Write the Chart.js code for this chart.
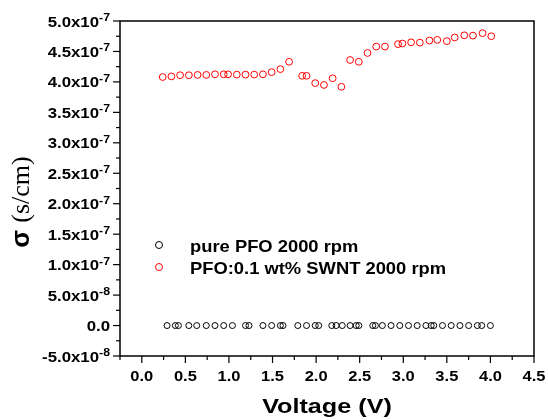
<!DOCTYPE html>
<html>
<head>
<meta charset="utf-8">
<script src="https://cdn.jsdelivr.net/npm/chart.js@4.4.1/dist/chart.umd.min.js"></script>
<style>
  body { margin: 0; background: #fff; }
  #caja { width: 548px; height: 420px; }
</style>
</head>
<body>
<div id="caja"><canvas id="grafico" width="548" height="420"></canvas></div>
<script>
const grafico = document.querySelector("#grafico");

// pure PFO 2000 rpm
const voltajePuro = [0.29, 0.385, 0.42, 0.54, 0.63, 0.74, 0.84, 0.94, 1.04, 1.19, 1.23, 1.39, 1.49, 1.59, 1.62,
  1.79, 1.89, 1.99, 2.03, 2.18, 2.23, 2.30, 2.39, 2.46, 2.49, 2.65, 2.68, 2.76, 2.86, 2.96, 3.06, 3.16,
  3.26, 3.32, 3.35, 3.45, 3.55, 3.65, 3.75, 3.85, 3.90, 4.00];
const sigmaPuro = [0, 0, 0, 0, 0, 0, 0, 0, 0, 0, 0, 0, 0, 0, 0, 0, 0, 0, 0, 0, 0,
  0, 0, 0, 0, 0, 0, 0, 0, 0, 0, 0, 0, 0, 0, 0, 0, 0, 0, 0, 0, 0];

// PFO:0.1 wt% SWNT 2000 rpm
const voltajeSWNT = [0.24, 0.34, 0.44, 0.54, 0.64, 0.74, 0.84, 0.94, 0.99, 1.09, 1.19, 1.29, 1.39, 1.49, 1.59,
  1.69, 1.84, 1.89, 1.99, 2.09, 2.19, 2.29, 2.39, 2.49, 2.59, 2.69, 2.79, 2.94, 2.99, 3.09, 3.19, 3.30,
  3.39, 3.50, 3.59, 3.70, 3.80, 3.91, 4.01];
const sigmaSWNT = [4.08e-7, 4.09e-7, 4.11e-7, 4.11e-7, 4.115e-7, 4.115e-7, 4.125e-7, 4.125e-7, 4.125e-7,
  4.12e-7, 4.12e-7, 4.12e-7, 4.125e-7, 4.16e-7, 4.21e-7, 4.33e-7, 4.10e-7, 4.10e-7, 3.98e-7, 3.95e-7,
  4.06e-7, 3.92e-7, 4.36e-7, 4.33e-7, 4.475e-7, 4.58e-7, 4.58e-7, 4.62e-7, 4.63e-7, 4.65e-7, 4.645e-7,
  4.68e-7, 4.69e-7, 4.67e-7, 4.73e-7, 4.765e-7, 4.76e-7, 4.80e-7, 4.75e-7];

const ticksX = [0, 0.5, 1.0, 1.5, 2.0, 2.5, 3.0, 3.5, 4.0, 4.5];
const etiquetasX = ["0.0", "0.5", "1.0", "1.5", "2.0", "2.5", "3.0", "3.5", "4.0", "4.5"];
const ticksY = [-5e-8, 0, 5e-8, 1e-7, 1.5e-7, 2e-7, 2.5e-7, 3e-7, 3.5e-7, 4e-7, 4.5e-7, 5e-7];
const etiquetasY = [["-5.0x10", "-8"], ["0.0", ""], ["5.0x10", "-8"], ["1.0x10", "-7"], ["1.5x10", "-7"],
  ["2.0x10", "-7"], ["2.5x10", "-7"], ["3.0x10", "-7"], ["3.5x10", "-7"], ["4.0x10", "-7"],
  ["4.5x10", "-7"], ["5.0x10", "-7"]];

const SANS = '"Liberation Sans", Arial, sans-serif';
const SERIF = '"Liberation Serif", "Times New Roman", serif';

const texto = (ctx, str, x, y, font, align, sx) => {
  ctx.save();
  ctx.translate(x, y);
  ctx.scale(sx, 1);
  ctx.font = font;
  ctx.textAlign = align;
  ctx.textBaseline = "alphabetic";
  ctx.fillStyle = "#000";
  ctx.fillText(str, 0, 0);
  ctx.restore();
};

const linea = (ctx, x1, y1, x2, y2) => {
  ctx.beginPath();
  ctx.moveTo(x1, y1);
  ctx.lineTo(x2, y2);
  ctx.stroke();
};

const ejes = {
  id: "ejes",
  afterDraw(chart) {
    const { ctx, chartArea: a, scales: { x, y } } = chart;
    ctx.save();
    ctx.strokeStyle = "#000";
    ctx.lineWidth = 1.5;
    ctx.strokeRect(a.left, a.top, a.right - a.left, a.bottom - a.top);

    // eje x: marcas mayores, menores y etiquetas
    ctx.lineWidth = 1.2;
    ticksX.forEach((v, i) => {
      const px = x.getPixelForValue(v);
      linea(ctx, px, a.bottom, px, a.bottom + 7);
      texto(ctx, etiquetasX[i], px, 381, "bold 15px " + SANS, "center", 1.1);
      const ant = i === 0 ? v - 0.25 : (ticksX[i - 1] + v) / 2;
      const pm = x.getPixelForValue(ant);
      linea(ctx, pm, a.bottom, pm, a.bottom + 4);
    });

    // eje y
    ticksY.forEach((v, i) => {
      const py = y.getPixelForValue(v);
      linea(ctx, a.left - 7, py, a.left, py);
      if (i > 0) {
        const pm = y.getPixelForValue((ticksY[i - 1] + v) / 2);
        linea(ctx, a.left - 4, pm, a.left, pm);
      }
      const [base, exp] = etiquetasY[i];
      const sx = 1.12;
      ctx.font = "bold 15px " + SANS;
      const wb = ctx.measureText(base).width * sx;
      ctx.font = "bold 11px " + SANS;
      const we = exp ? ctx.measureText(exp).width * sx : 0;
      const inicio = a.left - 10 - wb - we;
      texto(ctx, base, inicio, py + 5.5, "bold 15px " + SANS, "left", sx);
      if (exp) texto(ctx, exp, inicio + wb, py, "bold 11px " + SANS, "left", sx);
    });

    // titulos
    texto(ctx, "Voltage (V)", (a.left + a.right) / 2, 413, "bold 21px " + SANS, "center", 1.2);

    ctx.save();
    ctx.translate(29, 202);
    ctx.rotate(-Math.PI / 2);
    ctx.font = "bold 26px " + SANS;
    const ws = ctx.measureText("σ ").width;
    ctx.font = "26px " + SERIF;
    const wu = ctx.measureText("(s/cm)").width;
    const x0 = -(ws + wu) / 2;
    texto(ctx, "σ", x0, 0, "bold 26px " + SANS, "left", 1);
    texto(ctx, "(s/cm)", x0 + ws, 0, "26px " + SERIF, "left", 1);
    ctx.restore();

    // leyenda
    const filas = [245, 267];
    chart.data.datasets.forEach((ds, i) => {
      ctx.strokeStyle = ds.borderColor;
      ctx.lineWidth = 1;
      ctx.beginPath();
      ctx.arc(159, filas[i], 3.5, 0, Math.PI * 2);
      ctx.stroke();
      texto(ctx, ds.label, 190, filas[i] + 6.5, "bold 17px " + SANS, "left", 1.08);
    });
    ctx.restore();
  }
};

new Chart(grafico, {
  type: "scatter",
  data: {
    datasets: [
      {
        label: "pure PFO 2000 rpm",
        data: voltajePuro.map((v, i) => ({ x: v, y: sigmaPuro[i] })),
        borderColor: "#000000",
        backgroundColor: "rgba(0,0,0,0)",
        borderWidth: 1,
        pointRadius: 3,
      },
      {
        label: "PFO:0.1 wt% SWNT 2000 rpm",
        data: voltajeSWNT.map((v, i) => ({ x: v, y: sigmaSWNT[i] })),
        borderColor: "#ff0000",
        backgroundColor: "rgba(0,0,0,0)",
        borderWidth: 1,
        pointRadius: 3.4,
      },
    ],
  },
  options: {
    responsive: false,
    animation: false,
    layout: { padding: { left: 120, right: 14, top: 21, bottom: 64 } },
    plugins: {
      legend: { display: false },
      tooltip: { enabled: false },
    },
    scales: {
      x: { type: "linear", display: false, min: -0.25, max: 4.5 },
      y: { type: "linear", display: false, min: -5e-8, max: 5e-7 },
    },
  },
  plugins: [ejes],
});
</script>
</body>
</html>
